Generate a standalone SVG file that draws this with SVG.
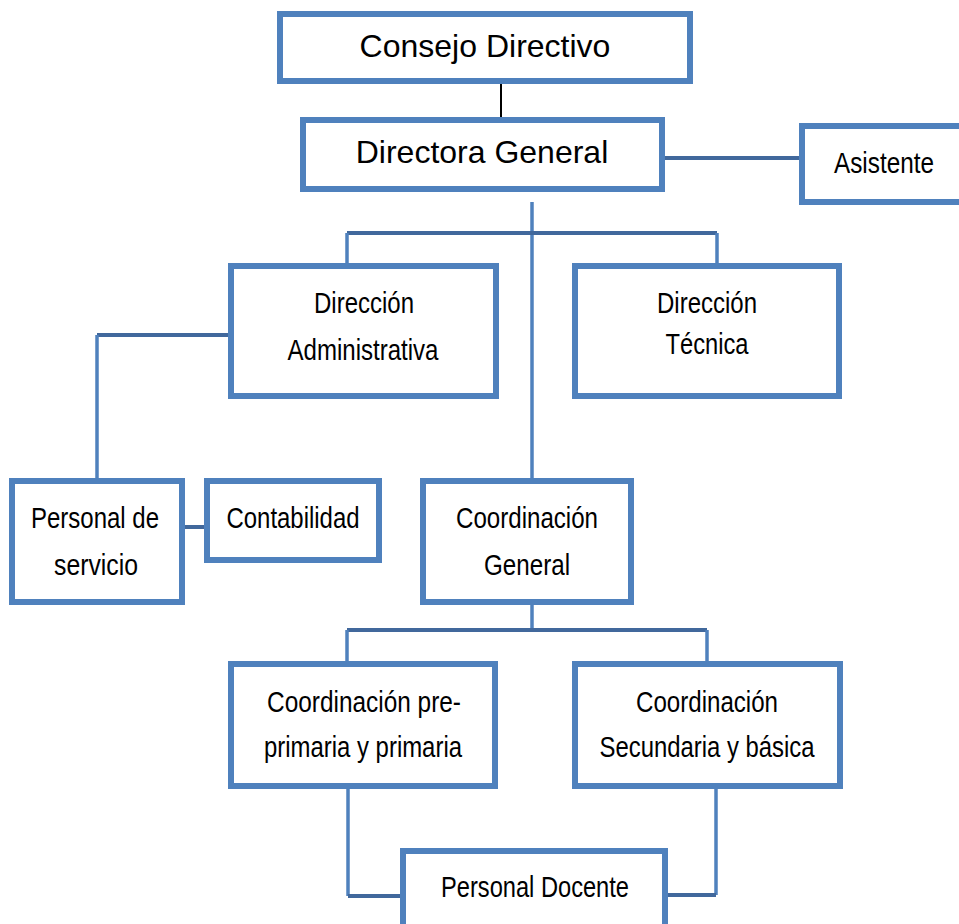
<svg xmlns="http://www.w3.org/2000/svg" width="959" height="924" viewBox="0 0 959 924">
<style>
.box{fill:#fff;stroke:#4f81bd;stroke-width:6}
.big{font-family:"Liberation Sans",Arial,sans-serif;font-size:32px;fill:#000;text-anchor:middle}
.nar{font-family:"Liberation Sans",Arial,sans-serif;font-size:30px;fill:#000;text-anchor:middle}
.h{stroke:#41689c;stroke-width:4;fill:none}
.v{stroke:#4f81bd;stroke-width:3.5;fill:none}
</style>
<rect width="959" height="924" fill="#fff"/>
<g id="connectors">
<line x1="501" y1="84" x2="501" y2="117" stroke="#000" stroke-width="2"/>
<line class="h" x1="665" y1="158" x2="799" y2="158"/>
<line class="v" x1="532" y1="202" x2="532" y2="478"/>
<line class="h" x1="347" y1="233" x2="717" y2="233"/>
<line class="v" x1="347" y1="233" x2="347" y2="263"/>
<line class="v" x1="717" y1="233" x2="717" y2="263"/>
<line class="h" x1="228" y1="335" x2="97" y2="335"/>
<line class="v" x1="97" y1="335" x2="97" y2="478"/>
<line class="h" x1="185" y1="527" x2="204" y2="527" stroke-width="6"/>
<line class="v" x1="532" y1="605" x2="532" y2="630"/>
<line class="h" x1="347" y1="630" x2="707" y2="630"/>
<line class="v" x1="347" y1="630" x2="347" y2="661"/>
<line class="v" x1="707" y1="630" x2="707" y2="661"/>
<line class="v" x1="348" y1="789" x2="348" y2="896"/>
<line class="h" x1="348" y1="896" x2="400" y2="896"/>
<line class="v" x1="716" y1="789" x2="716" y2="895"/>
<line class="h" x1="716" y1="895" x2="668" y2="895"/>
</g>
<g id="consejo"><rect class="box" x="280" y="14" width="410" height="67"/><text class="big" x="485" y="57">Consejo Directivo</text></g>
<g id="directora"><rect class="box" x="303" y="120" width="359" height="69"/><text class="big" x="482" y="163">Directora General</text></g>
<g id="asistente"><rect class="box" x="802" y="126" width="162" height="76"/><text class="nar" x="884" y="173" textLength="100" lengthAdjust="spacingAndGlyphs">Asistente</text></g>
<g id="dir-adm"><rect class="box" x="231" y="266" width="265" height="130"/><text class="nar" x="364" y="313" textLength="100" lengthAdjust="spacingAndGlyphs">Dirección</text><text class="nar" x="363" y="360" textLength="151" lengthAdjust="spacingAndGlyphs">Administrativa</text></g>
<g id="dir-tec"><rect class="box" x="575" y="266" width="264" height="130"/><text class="nar" x="707" y="313" textLength="100" lengthAdjust="spacingAndGlyphs">Dirección</text><text class="nar" x="707" y="354" textLength="83" lengthAdjust="spacingAndGlyphs">Técnica</text></g>
<g id="personal-servicio"><rect class="box" x="12" y="481" width="170" height="121"/><text class="nar" x="95" y="528" textLength="128" lengthAdjust="spacingAndGlyphs">Personal de</text><text class="nar" x="96" y="575" textLength="84" lengthAdjust="spacingAndGlyphs">servicio</text></g>
<g id="contabilidad"><rect class="box" x="207" y="481" width="172" height="79"/><text class="nar" x="293" y="528" textLength="133" lengthAdjust="spacingAndGlyphs">Contabilidad</text></g>
<g id="coord-general"><rect class="box" x="423" y="481" width="208" height="121"/><text class="nar" x="527" y="528" textLength="142" lengthAdjust="spacingAndGlyphs">Coordinación</text><text class="nar" x="527" y="575" textLength="86" lengthAdjust="spacingAndGlyphs">General</text></g>
<g id="coord-pre"><rect class="box" x="231" y="664" width="264" height="122"/><text class="nar" x="364" y="712" textLength="194" lengthAdjust="spacingAndGlyphs">Coordinación pre-</text><text class="nar" x="363" y="757" textLength="198" lengthAdjust="spacingAndGlyphs">primaria y primaria</text></g>
<g id="coord-sec"><rect class="box" x="575" y="664" width="265" height="122"/><text class="nar" x="707" y="712" textLength="142" lengthAdjust="spacingAndGlyphs">Coordinación</text><text class="nar" x="707" y="757" textLength="215" lengthAdjust="spacingAndGlyphs">Secundaria y básica</text></g>
<g id="personal-docente"><rect class="box" x="403" y="851" width="262" height="80"/><text class="nar" x="535" y="897" textLength="188" lengthAdjust="spacingAndGlyphs">Personal Docente</text></g>
</svg>
